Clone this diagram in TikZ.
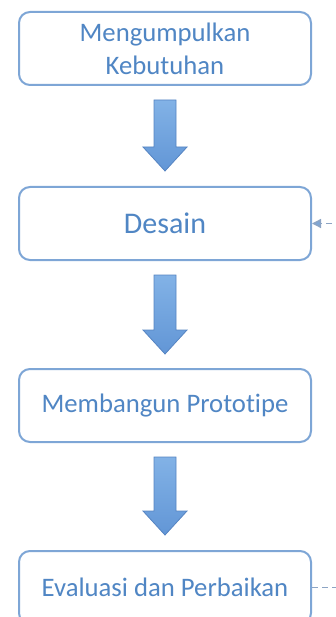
\documentclass[tikz,border=0pt]{standalone}
\usepackage{fontspec}
\setmainfont{Carlito}[Ligatures=NoCommon]
\usepackage{tikz}
\usetikzlibrary{positioning,calc,arrows.meta}
\definecolor{garis}{RGB}{126,166,214}
\definecolor{teks}{RGB}{80,134,196}
\definecolor{panahatas}{RGB}{130,178,230}
\definecolor{panahbawah}{RGB}{98,150,214}
\definecolor{panahtepi}{RGB}{86,132,194}
\definecolor{putus}{RGB}{140,164,196}
\tikzstyle{flow}=[
  x=1pt,y=-1pt,font=\fontsize{26.7}{33}\selectfont
]
\tikzstyle{tahap}=[
  draw=garis,line width=2pt,rounded corners=11pt,fill=white,text=teks,
  minimum width=292pt,minimum height=73pt,align=center,inner sep=0pt
]
\tikzstyle{panah}=[
  top color=panahatas,bottom color=panahbawah,draw=panahtepi,line width=0.8pt
]
\tikzstyle{balik}=[
  draw=putus,line width=1.4pt,dash pattern=on 6pt off 4pt
]
\newcommand{\panahblok}[2]{%
  \path[panah] let \p1=(#1), \p2=(#2) in
    (\x1-11pt,\y1) -- (\x1+11pt,\y1) -- (\x1+11pt,\y2+24pt) -- (\x1+22pt,\y2+24pt)
    -- (\x2,\y2) -- (\x1-22pt,\y2+24pt) -- (\x1-11pt,\y2+24pt) -- cycle;
}
\begin{document}
\begin{tikzpicture}[flow]
    \useasboundingbox (0,0) rectangle (336,617);
      \node (kebutuhan) at (165,48.5) [tahap] {Mengumpulkan\\Kebutuhan};
      \node (desain) [tahap,below=100pt of kebutuhan,font=\fontsize{30}{36}\selectfont] {Desain};
      \node (prototipe) [tahap,below=107pt of desain] {Membangun Prototipe};
      \node (evaluasi) [tahap,below=107pt of prototipe] {Evaluasi dan Perbaikan};
      \coordinate (a1) at ($(kebutuhan.south) + (0,14)$);
      \coordinate (b1) at ($(desain.north) + (0,-15)$);
      \coordinate (a2) at ($(desain.south) + (0,14)$);
      \coordinate (b2) at ($(prototipe.north) + (0,-14)$);
      \coordinate (a3) at ($(prototipe.south) + (0,14)$);
      \coordinate (b3) at ($(evaluasi.north) + (0,-15)$);
      \panahblok{a1}{b1}
      \panahblok{a2}{b2}
      \panahblok{a3}{b3}
      \coordinate (ujung1) at ($(desain.east) + (30,0)$);
      \coordinate (ujung2) at ($(evaluasi.east) + (30,0)$);
      \draw [balik,-{Triangle[length=9pt,width=9pt,fill=garis]}] (ujung1) -- (desain.east);
      \draw [balik] (evaluasi.east) -- (ujung2);
    \end{tikzpicture}
\end{document}
